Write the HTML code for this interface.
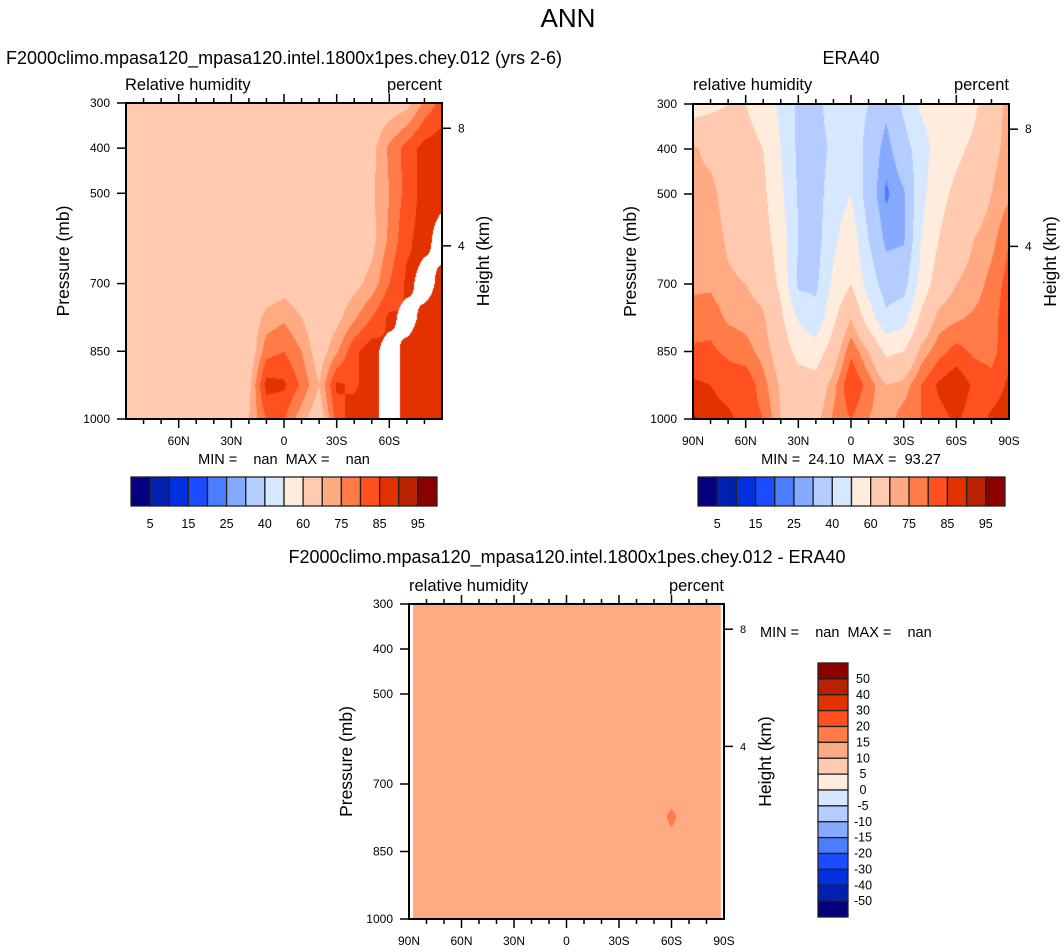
<!DOCTYPE html>
<html><head><meta charset="utf-8"><title>ANN relative humidity</title>
<style>
body{margin:0;width:1064px;height:952px;background:#fff;position:relative;overflow:hidden;font-family:"Liberation Sans",sans-serif}
canvas{position:absolute}
svg{position:absolute;left:0;top:0}
svg text{font-family:"Liberation Sans",sans-serif;fill:#000;white-space:pre}
</style></head>
<body>
<canvas id="c1" width="316" height="316" style="left:126px;top:103px"></canvas>
<canvas id="c2" width="316" height="315" style="left:693px;top:104px"></canvas>
<canvas id="c3" width="315" height="315" style="left:409px;top:604px"></canvas>
<svg id="ov" width="1064" height="952">
<text x="568" y="27" font-size="26" text-anchor="middle">ANN</text>
<text x="284" y="64" font-size="18" text-anchor="middle">F2000climo.mpasa120_mpasa120.intel.1800x1pes.chey.012 (yrs 2-6)</text>
<text x="851" y="64" font-size="18" text-anchor="middle">ERA40</text>
<text x="567" y="563" font-size="18" text-anchor="middle">F2000climo.mpasa120_mpasa120.intel.1800x1pes.chey.012 - ERA40</text>
<text x="125" y="90" font-size="16.5">Relative humidity</text>
<text x="442" y="90" font-size="16.5" text-anchor="end">percent</text>
<text x="693" y="90" font-size="16.5">relative humidity</text>
<text x="1009" y="90" font-size="16.5" text-anchor="end">percent</text>
<text x="409" y="591" font-size="16.5">relative humidity</text>
<text x="724" y="591" font-size="16.5" text-anchor="end">percent</text>
<text x="284" y="464" font-size="14.5" text-anchor="middle">MIN =    nan  MAX =    nan</text>
<text x="851" y="464" font-size="14.5" text-anchor="middle">MIN =  24.10  MAX =  93.27</text>
<text x="760" y="637" font-size="14.5">MIN =    nan  MAX =    nan</text>
</svg>
<script>
// ---- data ----
const lats = [90,80,70,60,50,40,30,20,10,0,-10,-20,-30,-40,-50,-60,-70,-80,-90];
const pLevels = [300,400,500,600,700,775,850,925,1000];
const N = NaN;
const rhModel = [
 [65,65,65,65,65,65,65,65,65,65,65,65,65,65,65,66,68,76,82],
 [65,65,65,65,65,65,65,65,65,65,65,65,65,65,68,76,82,87,88],
 [65,65,65,65,65,65,65,65,65,65,65,65,65,65,69,75,82,87,88],
 [65,65,65,65,65,65,65,65,65,65,65,65,65,65,68,76,84,87,N],
 [65,65,65,65,65,65,65,65,65,67,65,65,66,68,72,80,86,N,88],
 [65,65,65,65,65,65,65,65,72,74,70,65,68,74,80,86,N,88,88],
 [65,65,65,65,65,65,65,65,78,80,75,66,74,84,88,N,88,88,88],
 [65,65,65,65,65,65,65,68,87,86,79,70,86,84,88,N,88,88,88],
 [65,65,65,65,65,65,65,70,80,80,72,65,82,88,88,N,88,88,88]
];
const rhEra40 = [
 [55,58,60,60,56,48,38,37,45,45,40,32,42,52,55,52,58,66,72],
 [71,68,65,63,60,50,38,36,42,48,36,27,36,45,55,58,62,68,72],
 [72,72,67,65,62,52,39,36,45,50,35,24,29,47,57,62,65,70,74],
 [73,73,69,67,64,55,40,36,48,56,40,28,29,50,60,66,70,73,80],
 [74,74,71,70,67,58,38,38,52,60,46,35,36,54,65,70,72,77,82],
 [77,78,74,73,71,62,49,43,58,70,55,42,46,62,72,74,76,78,83],
 [81,81,79,77,73,66,57,55,65,79,70,58,60,72,78,82,79,78,84],
 [86,85,83,84,77,69,65,64,73,85,78,70,72,80,86,89,84,82,86],
 [91,87,86,83,80,70,66,68,76,80,75,72,78,80,83,86,82,86,88]
];
const rhDiff = [
 [12,12,12,12,12,12,12,12,12,12,12,12,12,12,12,12,12,12,12],
 [12,12,12,12,12,12,12,12,12,12,12,12,12,12,12,12,12,12,12],
 [12,12,12,12,12,12,12,12,12,12,12,12,12,12,12,12,12,12,12],
 [12,12,12,12,12,12,12,12,12,12,12,12,12,12,12,12,12,12,12],
 [12,12,12,12,12,12,12,12,12,12,12,12,12,12,12,12,12,12,12],
 [12,12,12,12,12,12,12,12,12,12,12,12,12,12,12,16.2,12,12,12],
 [12,12,12,12,12,12,12,12,12,12,12,12,12,12,12,12,12,12,12],
 [12,12,12,12,12,12,12,12,12,12,12,12,12,12,12,12,12,12,12],
 [12,12,12,12,12,12,12,12,12,12,12,12,12,12,12,12,12,12,12]
];
const levelsRH = [5,10,15,20,25,30,40,50,60,70,75,80,85,90,95];
const levelsDiff = [-50,-40,-30,-20,-15,-10,-5,0,5,10,15,20,30,40,50];
const rhLabels = ["5","15","25","40","60","75","85","95"];
const diffLabels = ["-50","-40","-30","-20","-15","-10","-5","0","5","10","15","20","30","40","50"];
const palette = ["#05007e","#0221b0","#0030e0","#1c4cff","#4a7dff","#86aaff","#b4ccff","#d6e8ff","#ffecdc","#ffcab0","#ffaa82","#ff7b48","#ff5020","#e23200","#b82200","#8c0000"];
const pressTicks = [300,400,500,700,850,1000];
const heightTicks = [8,4];
const latTicks = [90,60,30,0,-30,-60,-90];
const latTickLabels = ["90N","60N","30N","0","30S","60S","90S"];

// ---- helpers ----
function hexToRgb(h){return [parseInt(h.substr(1,2),16),parseInt(h.substr(3,2),16),parseInt(h.substr(5,2),16)];}
const palRgb = palette.map(hexToRgb);
function colorIndex(v,levels){let k=0;while(k<levels.length&&v>=levels[k])k++;return k;}
function sample(grid,lat,p){
  const fi=(90-lat)/10; let i=Math.min(Math.floor(fi),lats.length-2); const tx=fi-i;
  let k=0; while(k<pLevels.length-2&&p>pLevels[k+1])k++;
  const tp=(p-pLevels[k])/(pLevels[k+1]-pLevels[k]);
  const pts=[[grid[k][i],(1-tx)*(1-tp)],[grid[k][i+1],tx*(1-tp)],[grid[k+1][i],(1-tx)*tp],[grid[k+1][i+1],tx*tp]];
  let s=0,w=0,m=0; for(const [v,ww] of pts){if(!isNaN(v)){s+=v*ww;w+=ww;}else m+=ww;}
  if(m>0.42) return NaN;
  return w>0?s/w:NaN;
}
function drawField(id,grid,levels,insetL,insetR){
  const cv=document.getElementById(id),ctx=cv.getContext('2d');
  const w=cv.width,h=cv.height,img=ctx.createImageData(w,h);
  for(let py=0;py<h;py++){
    const p=300+(py+0.5)/h*700;
    for(let px=0;px<w;px++){
      const lat=90-(px+0.5)/w*180;
      const v=sample(grid,lat,p);
      let c=[255,255,255];
      if(!isNaN(v)&&px>=insetL&&px<w-insetR) c=palRgb[colorIndex(v,levels)];
      const o=(py*w+px)*4; img.data[o]=c[0];img.data[o+1]=c[1];img.data[o+2]=c[2];img.data[o+3]=255;
    }
  }
  ctx.putImageData(img,0,0);
}
drawField('c1',rhModel,levelsRH,0,0);
drawField('c2',rhEra40,levelsRH,0,0);
drawField('c3',rhDiff,levelsDiff,4,3);

const NS='http://www.w3.org/2000/svg';
const ov=document.getElementById('ov');
function el(tag,attrs,parent){const e=document.createElementNS(NS,tag);for(const a in attrs)e.setAttribute(a,attrs[a]);(parent||ov).appendChild(e);return e;}
function kmToP(h){return 1013.25*Math.pow(1-2.25577e-5*h*1000,5.25588);}

function axes(name,g,showEdgeLabels,rightLabelSize){
  const sx=lat=>g.x0+(90-lat)/180*(g.x1-g.x0);
  const sy=p=>g.y0+(p-300)/700*(g.y1-g.y0);
  const grp=el('g',{});
  
  
  for(let lat=80;lat>-90;lat-=10){
    const major=lat%30===0, len=major?9:5, x=sx(lat);
    const t1=el('line',{x1:x,x2:x,y1:g.y1,y2:g.y1+len,stroke:'#000','stroke-width':1.5},grp);
    
    
    const t2=el('line',{x1:x,x2:x,y1:g.y0,y2:g.y0-len,stroke:'#000','stroke-width':1.5},grp);
    
    
  }
  latTicks.forEach((lat,j)=>{
    if(!showEdgeLabels&&Math.abs(lat)===90)return;
    const t=el('text',{x:sx(lat),y:g.y1+26,'font-size':12,'text-anchor':'middle'},grp);
    t.textContent=latTickLabels[j];
    
    
  });
  pressTicks.forEach(p=>{
    const y=sy(p);
    const l=el('line',{x1:g.x0-9,x2:g.x0,y1:y,y2:y,stroke:'#000','stroke-width':1.5},grp);
    
    
    const t=el('text',{x:g.x0-16,y:y+4,'font-size':12,'text-anchor':'end'},grp);
    t.textContent=String(p);
    
    
  });
  heightTicks.forEach(h=>{
    const y=sy(kmToP(h));
    const l=el('line',{x1:g.x1,x2:g.x1+9,y1:y,y2:y,stroke:'#000','stroke-width':1.5},grp);
    
    
    const t=el('text',{x:g.x1+16,y:y+4,'font-size':rightLabelSize},grp);
    t.textContent=String(h);
    
    
  });
  const b=el('rect',{x:g.x0,y:g.y0,width:g.x1-g.x0,height:g.y1-g.y0,fill:'none',stroke:'#000','stroke-width':2},grp);
  
  
  const cy=(g.y0+g.y1)/2;
  const yl=el('text',{x:0,y:0,'font-size':17.5,'text-anchor':'middle',transform:`translate(${g.x0-57},${cy}) rotate(-90)`},grp);
  yl.textContent='Pressure (mb)';
  
  
  const hl=el('text',{x:0,y:0,'font-size':17.5,'text-anchor':'middle',transform:`translate(${g.x1+47},${cy}) rotate(-90)`},grp);
  hl.textContent='Height (km)';
  
  
}
axes('model',{x0:126,x1:442,y0:103,y1:419},false,12);
axes('era40',{x0:693,x1:1009,y0:104,y1:419},true,12);
axes('difference',{x0:409,x1:724,y0:604,y1:919},true,11);

function hColorbar(name,x0,x1,y0,y1){
  const grp=el('g',{});
  
  
  const bw=(x1-x0)/palette.length;
  palette.forEach((c,i)=>{
    const r=el('rect',{x:x0+i*bw,y:y0,width:bw,height:y1-y0,fill:c,stroke:'#222','stroke-width':1.3},grp);
    
    
  });
  rhLabels.forEach((lab,j)=>{
    const t=el('text',{x:x0+(2*j+1)*bw,y:y1+22,'font-size':12.5,'text-anchor':'middle'},grp);
    t.textContent=lab;
    
    
  });
}
hColorbar('model-colorbar',131,437,477,506);
hColorbar('era40-colorbar',698,1005,477,506);

(function(){
  const x0=818,x1=848,y0=663,y1=917;
  const grp=el('g',{});
  
  
  const bh=(y1-y0)/palette.length;
  palette.slice().reverse().forEach((c,i)=>{
    const r=el('rect',{x:x0,y:y0+i*bh,width:x1-x0,height:bh,fill:c,stroke:'#222','stroke-width':1.3},grp);
    
    
  });
  diffLabels.slice().reverse().forEach((lab,j)=>{
    const t=el('text',{x:863,y:y0+(j+1)*bh+4,'font-size':12.5,'text-anchor':'middle'},grp);
    t.textContent=lab;
    
    
  });
})();
</script>
</body></html>
